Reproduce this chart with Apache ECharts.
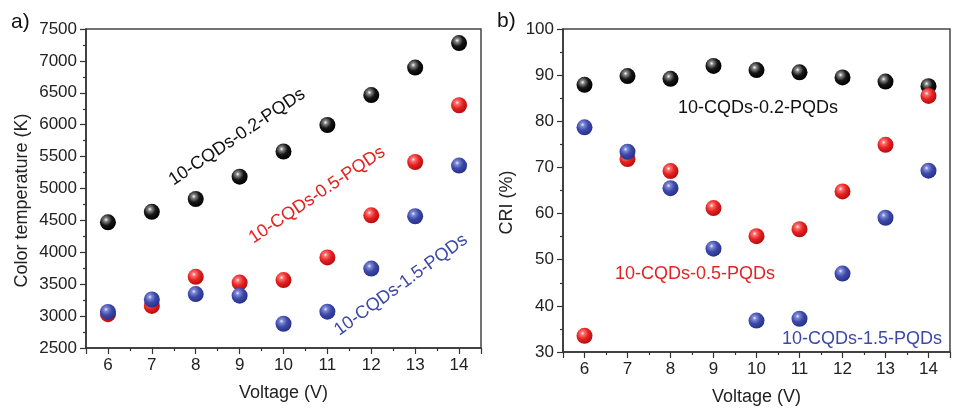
<!DOCTYPE html>
<html lang="en">
<head>
    <meta charset="UTF-8">
    <title>CQDs-PQDs</title>
    <style>
        * { padding: 0; margin: 0; box-sizing: border-box; }
        html, body { width: 100%; height: 100%; overflow: hidden; background: #fff; }
        #box { width: 953px; height: 411px; }
    </style>
</head>
<body>
    <div id="box"></div>
</body>
<script src="https://cdn.jsdelivr.net/npm/echarts@6/dist/echarts.min.js"></script>
<script>
    var voltage = [6, 7, 8, 9, 10, 11, 12, 13, 14];
    // color temperature (K)
    var ct02 = [4470, 4635, 4835, 5185, 5580, 5995, 6465, 6895, 7280];
    var ct05 = [3030, 3160, 3615, 3525, 3565, 3920, 4580, 5415, 6305];
    var ct15 = [3065, 3260, 3345, 3320, 2880, 3070, 3745, 4565, 5360];
    // CRI (%)
    var cri02 = [87.9, 89.8, 89.2, 92.0, 91.1, 90.6, 89.5, 88.6, 87.6];
    var cri05 = [33.5, 71.8, 69.2, 61.2, 55.1, 56.6, 64.8, 74.9, 85.5];
    var cri15 = [78.7, 73.4, 65.5, 52.4, 36.8, 37.2, 47.0, 59.1, 69.3];

    var FONT = 'Liberation Sans, Arial, sans-serif';

    function pairs(ys) {
        return voltage.map(function (v, i) { return [v, ys[i]]; });
    }
    function ball(c0, c1, c2, c3) {
        return {
            type: 'radial', x: 0.38, y: 0.34, r: 0.66,
            colorStops: [
                { offset: 0, color: c0 },
                { offset: 0.18, color: c1 },
                { offset: 0.55, color: c2 },
                { offset: 1, color: c3 }
            ]
        };
    }
    var BLACK = ball('#ffffff', '#888888', '#161616', '#000000');
    var RED = ball('#ffffff', '#ff7070', '#e52222', '#b80d0d');
    var BLUE = ball('#f0f0ff', '#7f8ad6', '#3c49a9', '#27328a');

    function xAx(idx, gap) {
        return {
            type: 'value', gridIndex: idx, min: 5.5, max: 14.5, splitNumber: 9,
            name: 'Voltage (V)', nameLocation: 'middle', nameGap: gap,
            nameTextStyle: { fontFamily: FONT, fontSize: 18, color: '#222' },
            axisLine: { lineStyle: { color: '#333', width: 1.5 } },
            axisTick: { inside: false, length: 6, lineStyle: { color: '#333', width: 1.2 } },
            minorTick: { show: true, splitNumber: 2, length: 3, lineStyle: { color: '#333', width: 1.2 } },
            splitLine: { show: false },
            axisLabel: {
                fontFamily: FONT, fontSize: 17, color: '#222', margin: 9,
                formatter: function (v) { return Number.isInteger(v) ? String(v) : ''; }
            }
        };
    }
    function yAx(idx, min, max, interval, name, gap) {
        return {
            type: 'value', gridIndex: idx, min: min, max: max, interval: interval,
            name: name, nameLocation: 'middle', nameGap: gap, nameRotate: 90,
            nameTextStyle: { fontFamily: FONT, fontSize: 18, color: '#222', padding: [0, 24, 0, 0] },
            axisLine: { lineStyle: { color: '#333', width: 1.5 } },
            axisTick: { inside: false, length: 6, lineStyle: { color: '#333', width: 1.2 } },
            minorTick: { show: true, splitNumber: 2, length: 3, lineStyle: { color: '#333', width: 1.2 } },
            splitLine: { show: false },
            axisLabel: {
                fontFamily: FONT, fontSize: 17, color: '#222', margin: 9,
                formatter: function (v) { return String(v); }
            }
        };
    }
    function sc(name, xi, data, color) {
        return {
            name: name, type: 'scatter', xAxisIndex: xi, yAxisIndex: xi,
            symbolSize: 16, data: pairs(data),
            itemStyle: { color: color, opacity: 1 }
        };
    }
    function note(text, x, y, color, deg) {
        return {
            type: 'text', x: x, y: y, rotation: (deg || 0) * Math.PI / 180,
            style: {
                text: text, fill: color, font: '18px ' + FONT,
                textAlign: 'center', textVerticalAlign: 'middle'
            }
        };
    }

    var box = echarts.init(document.getElementById('box'), null, { renderer: 'canvas' });
    var option = {
        backgroundColor: '#fff',
        animation: false,
        grid: [
            { left: 86, top: 29, width: 395, height: 319, show: true, borderColor: '#444', borderWidth: 1.5 },
            { left: 563, top: 29, width: 402, height: 324, show: true, borderColor: '#444', borderWidth: 1.5 }
        ],
        xAxis: [xAx(0, 36), xAx(1, 36)],
        yAxis: [
            yAx(0, 2500, 7500, 500, 'Color temperature (K)', 55),
            yAx(1, 30, 100, 10, 'CRI (%)', 47)
        ],
        series: [
            sc('0.2 CT', 0, ct02, BLACK),
            sc('0.5 CT', 0, ct05, RED),
            sc('1.5 CT', 0, ct15, BLUE),
            sc('0.2 CRI', 1, cri02, BLACK),
            sc('0.5 CRI', 1, cri05, RED),
            sc('1.5 CRI', 1, cri15, BLUE)
        ],
        graphic: [
            { type: 'text', left: 11, top: 12, style: { text: 'a)', fill: '#111', font: '21px ' + FONT } },
            { type: 'text', left: 497, top: 11, style: { text: 'b)', fill: '#111', font: '21px ' + FONT } },
            note('10-CQDs-0.2-PQDs', 237, 137, '#111', 34),
            note('10-CQDs-0.5-PQDs', 317, 195, '#e52222', 34),
            note('10-CQDs-1.5-PQDs', 401, 285, '#3c49a9', 36),
            note('10-CQDs-0.2-PQDs', 758, 108, '#111', 0),
            note('10-CQDs-0.5-PQDs', 695, 274, '#e52222', 0),
            note('10-CQDs-1.5-PQDs', 862, 339, '#3c49a9', 0)
        ]
    };
    box.setOption(option);
</script>
</html>
